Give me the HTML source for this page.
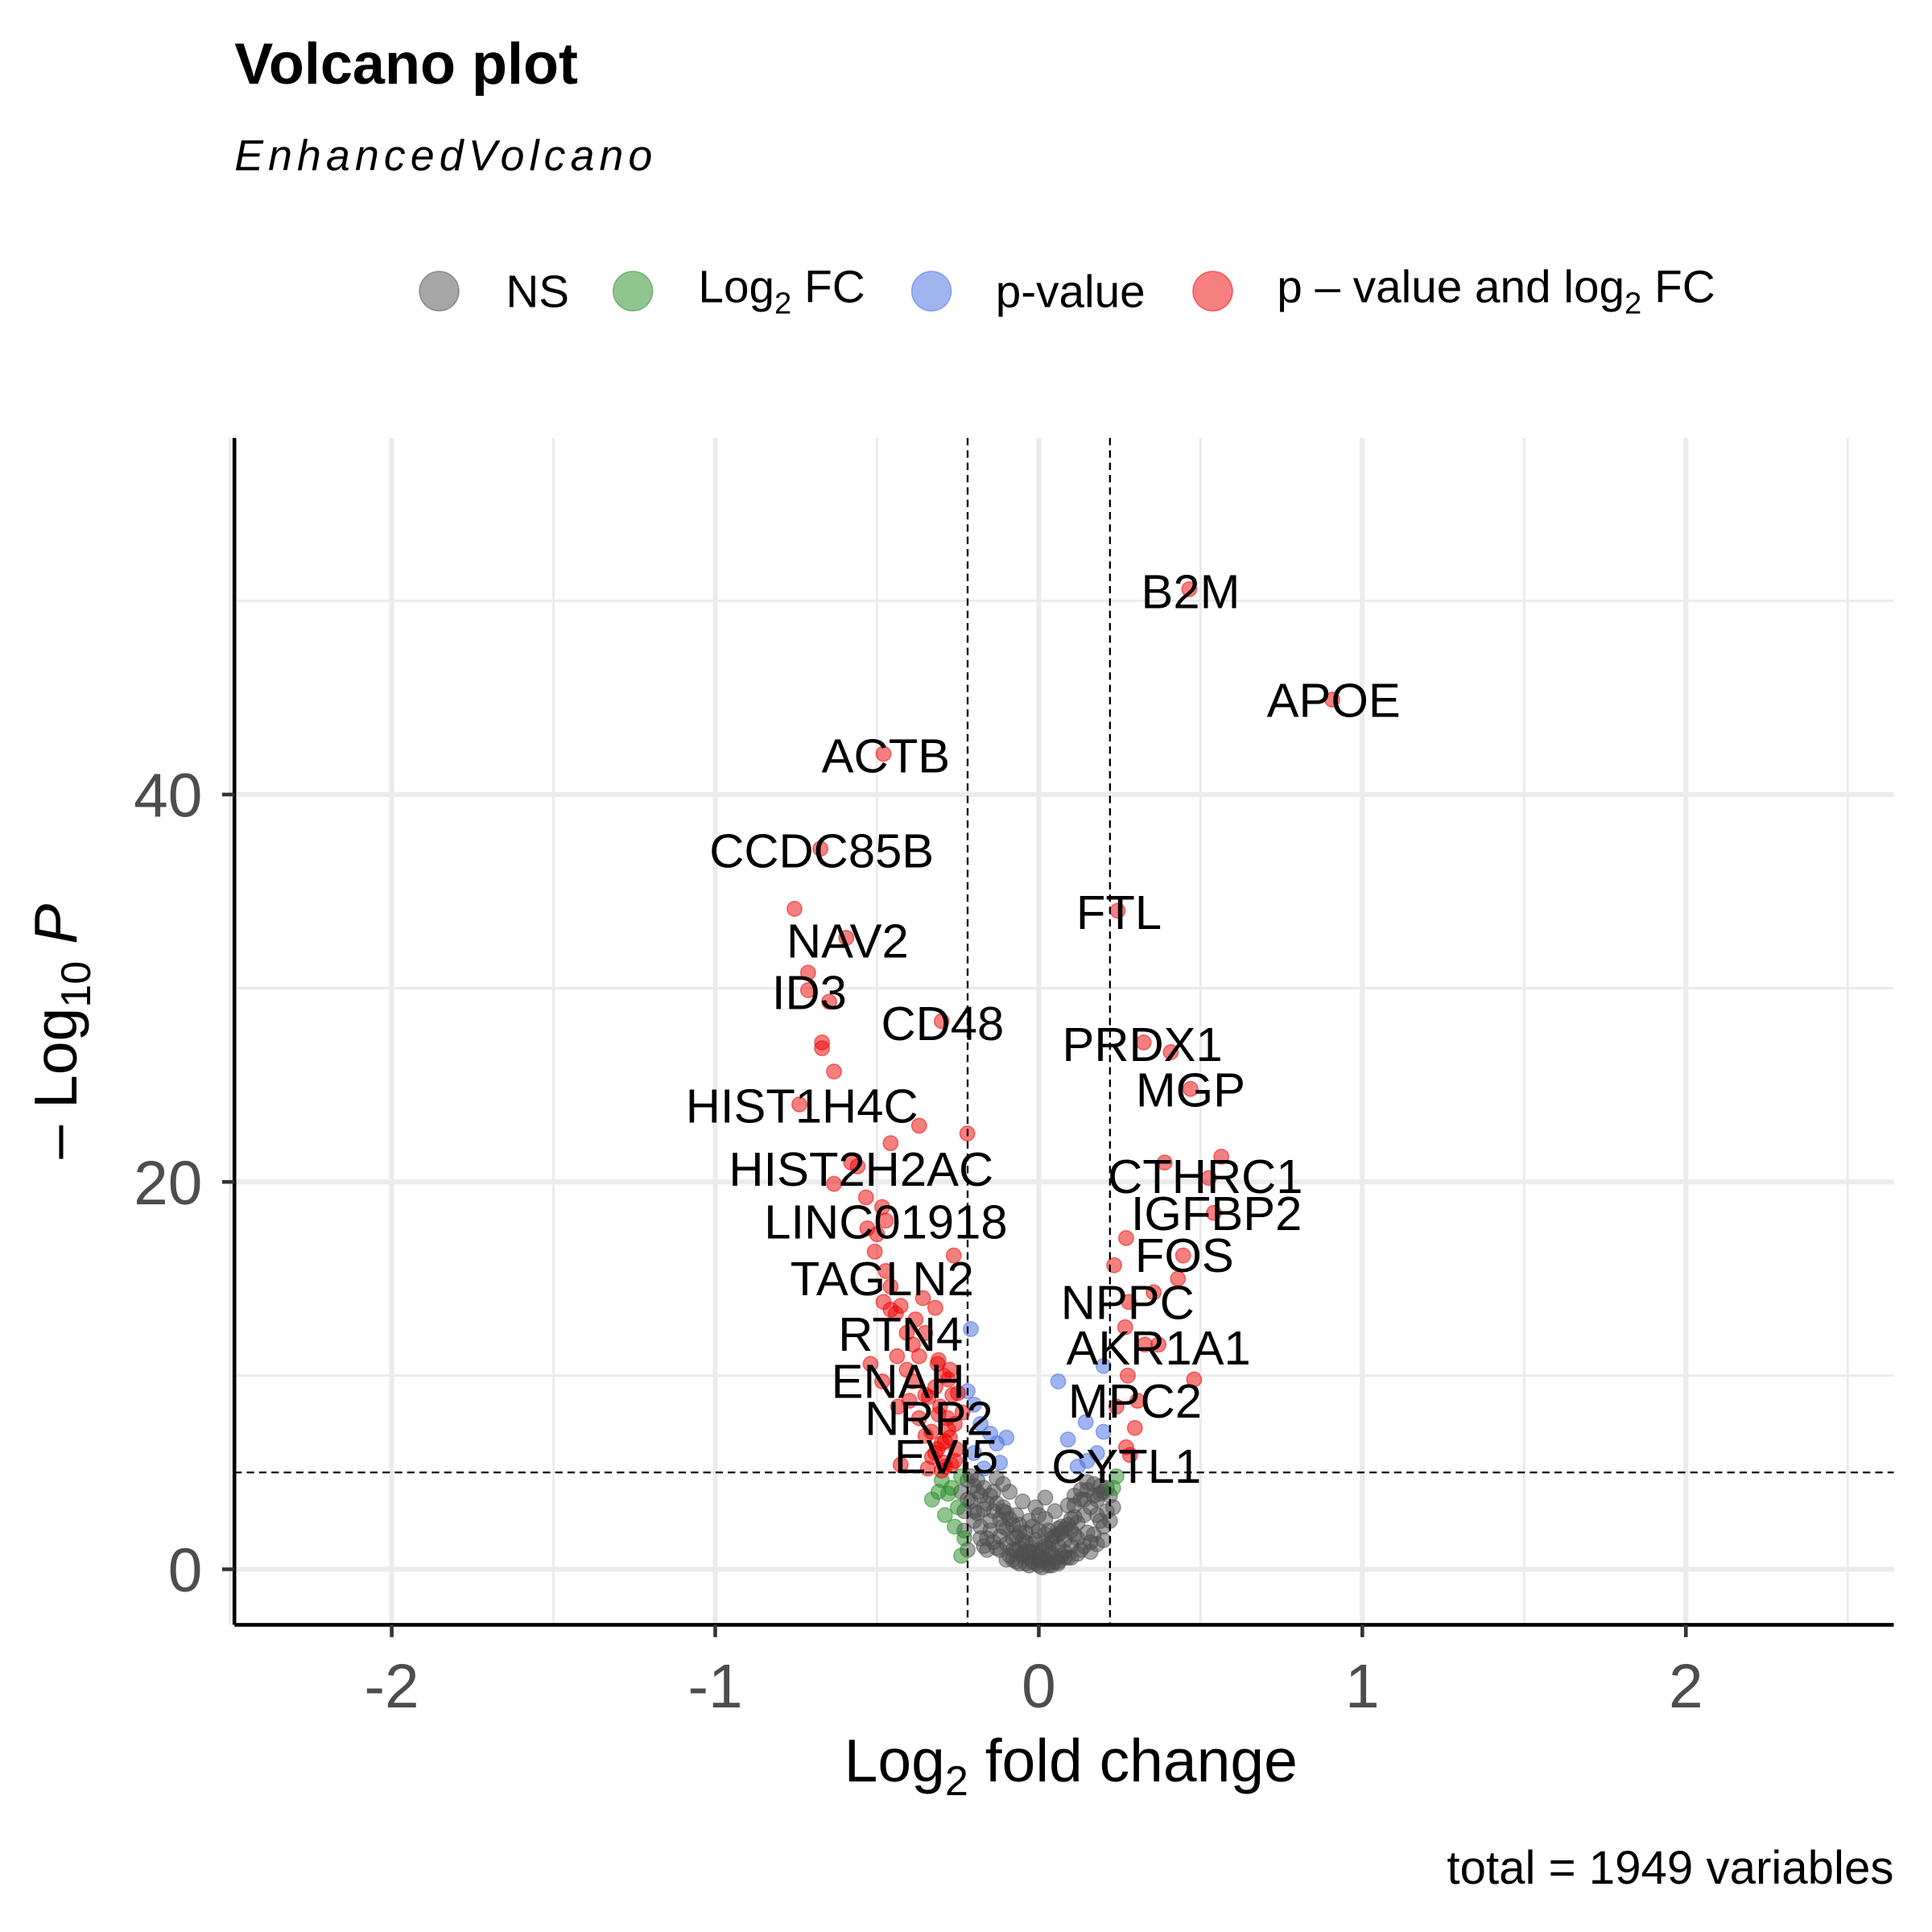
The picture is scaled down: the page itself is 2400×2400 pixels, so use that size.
<!DOCTYPE html>
<html><head><meta charset="utf-8"><style>
html,body{margin:0;padding:0;background:#fff;}
svg{display:block;font-family:"Liberation Sans",Arial,sans-serif;}
</style></head><body>
<svg id="chart" width="2400" height="2400" viewBox="0 0 1566 1566" xmlns="http://www.w3.org/2000/svg">
<text x="190" y="68" font-size="47" font-weight="bold">Volcano plot</text>
<text x="190" y="138" font-size="35" font-style="italic" letter-spacing="4">EnhancedVolcano</text>
<g font-size="37">
 <g><circle cx="356" cy="236" r="16" fill="#4d4d4d" fill-opacity="0.5" stroke="#4d4d4d" stroke-opacity="0.5"/><text x="410" y="249">NS</text></g>
 <g><circle cx="513" cy="236" r="16" fill="#228b22" fill-opacity="0.5" stroke="#228b22" stroke-opacity="0.5"/><text x="566" y="245">Log<tspan font-size="25" dy="9">2</tspan><tspan dy="-9"> FC</tspan></text></g>
 <g><circle cx="755" cy="236" r="16" fill="#4169e1" fill-opacity="0.5" stroke="#4169e1" stroke-opacity="0.5"/><text x="807" y="249">p-value</text></g>
 <g><circle cx="983" cy="236" r="16" fill="#ee0000" fill-opacity="0.5" stroke="#ee0000" stroke-opacity="0.5"/><text x="1035" y="245">p – value and log<tspan font-size="25" dy="9">2</tspan><tspan dy="-9"> FC</tspan></text></g>
</g>
<g id="grid"></g>
<g id="marks"></g>
<g id="labels" font-size="39" text-anchor="middle"></g>
<g id="axes"></g>
<text x="868" y="1444" font-size="49" text-anchor="middle">Log<tspan font-size="34" dy="11">2</tspan><tspan dy="-11"> fold change</tspan></text>
<text transform="translate(62,836) rotate(-90)" font-size="49" text-anchor="middle">– Log<tspan font-size="34" dy="11">10</tspan><tspan dy="-11" font-style="italic"> P</tspan></text>
<text x="1535" y="1527" font-size="38" text-anchor="end">total = 1949 variables</text>
</svg>
<script>
const xTicks=[-2,-1,0,1,2];
const xMinor=[-2.5,-1.5,-0.5,0.5,1.5,2.5];
const yTicks=[0,20,40];
const yMinor=[10,30,50];
const fcCut=[-0.22,0.22];
const pCut=[5];
const redX=[0.465,0.907,-0.48,-0.675,0.244,-0.755,-0.595,-0.713,-0.713,-0.648,-0.30,0.324,0.408,0.469,-0.67,-0.67,-0.633,-0.74,-0.37,-0.221,-0.458,-0.58,-0.56,0.564,0.389,0.526,-0.633,0.541,-0.534,-0.484,0.27,0.446,-0.263,0.233,0.43,0.278,0.355,-0.358,-0.32,0.267,0.328,0.37,0.48,0.275,0.305,0.24,0.297,0.282,0.27,
-0.473,-0.458,-0.48,-0.458,-0.427,-0.5,-0.507,-0.53,-0.473,-0.442,-0.408,-0.389,-0.37,-0.408,-0.313,-0.294,-0.389,-0.351,-0.305,-0.282,-0.332,-0.275,-0.313,-0.294,-0.343,-0.427,-0.255,-0.267,-0.236,-0.435,-0.37,-0.32,-0.275,-0.351,-0.381,-0.438,-0.4,-0.484,-0.52,-0.3,-0.33,-0.26,-0.28,-0.31,-0.25,-0.35,-0.29,-0.3,-0.27,-0.32,-0.29,-0.26,-0.34,-0.28,-0.31];
const redY=[50.6,44.9,42.1,37.2,34.0,34.1,32.6,30.8,29.9,29.3,28.3,27.2,26.7,24.8,27.2,26.9,25.7,24.0,22.9,22.5,22.0,21.0,20.8,21.3,21.0,20.2,19.9,18.4,19.2,18.7,17.1,16.2,16.2,15.7,15.0,13.8,14.3,14.0,13.5,12.5,11.6,11.6,9.8,10.0,8.7,8.4,7.3,5.9,6.3,
15.4,14.6,13.8,13.4,13.6,17.3,16.4,17.6,18.0,13.2,12.2,11.6,11.0,10.3,10.6,10.0,9.7,9.0,8.4,7.8,7.1,6.8,6.2,5.5,5.2,5.4,6.2,9.0,8.1,8.4,7.8,9.4,10.3,12.2,12.9,11.0,8.7,9.7,10.6,6.5,5.8,5.6,7.2,8.0,9.1,6.9,5.3,5.1,5.4,6.0,6.6,7.5,8.9,9.8,10.8];
const blueX=[-0.21,0.2,0.06,0.145,0.09,0.2,-0.2,-0.18,-0.15,-0.13,-0.2,-0.12,-0.17,-0.22,-0.1,0.15,0.12,0.18];
const blueY=[12.4,10.5,9.7,7.6,6.7,7.1,8.5,7.5,7.0,6.5,6.0,5.5,5.2,9.2,6.8,5.6,5.3,6.0];
const greenX=[-0.33,-0.24,-0.27,-0.25,-0.3,-0.26,-0.28,-0.23,-0.24,0.24,0.23,-0.29,-0.31];
const greenY=[3.6,0.7,4.2,3.2,4.6,2.2,3.9,1.6,4.8,4.8,4.2,2.8,4.0];
const grayX=[0,0.02,-0.02,0.04,-0.04,0.06,-0.06,0.08,-0.08,0.1,-0.1,0.12,-0.12,0.14,-0.14,0.16,-0.16,0.18,-0.18,0.2,-0.2,0.22,-0.22,0.01,-0.01,0.03,-0.03,0.05,-0.05,0.07,-0.07,0.09,-0.09,0.11,-0.11,0.13,-0.13,0.15,-0.15,0.17,-0.17,0.19,-0.19,0.21,-0.21,0.0,0.02,-0.02,0.05,-0.05,0.08,-0.08,0.1,-0.1,0.12,-0.12,0.15,-0.15,0.18,-0.2,-0.23,-0.22,0.2,0.0,0.03,-0.03,0.06,-0.07,0.09,-0.09,0.13,-0.13,0.16,-0.16,-0.18,0.22,-0.04,0.04,-0.11,0.11,0.06,-0.06,0.0,-0.01,0.02,-0.14,0.14,0.19,-0.19,-0.24,
0.01,-0.01,0.03,-0.03,0.05,-0.05,0.07,-0.07,0.0,0.02,-0.02,0.04,-0.04,0.06,-0.06,0.08,-0.08,0.1,-0.1,0.01,-0.03,0.03,-0.05,0.05,-0.09,0.09,-0.11,0.11,-0.13,0.13,-0.15,0.15,-0.17,0.17,-0.19,0.19,-0.21,0.21,-0.2,0.2,-0.18,0.18,-0.16,0.16,-0.14,0.14,-0.12,0.12,-0.06,0.06,-0.08,0.08,-0.02,0.02,0.0,-0.04,0.04,-0.1,0.1,-0.23,0.23,-0.22,0.17,-0.17,0.07,-0.07,0.11,-0.11];
const grayY=[0.2,0.5,0.4,0.8,0.9,1.2,1.1,1.5,1.6,2.0,2.1,2.4,2.6,2.8,3.0,3.2,3.4,3.6,3.8,4.0,4.3,3.8,4.6,1.0,1.5,2.0,2.5,3.0,3.5,2.2,2.8,3.3,4.0,3.8,4.4,4.1,4.7,4.5,2.0,1.8,1.2,2.5,2.9,3.0,3.5,1.0,1.8,0.9,0.6,0.7,0.9,1.0,1.2,1.3,1.6,1.7,1.9,2.5,2.8,3.0,2.0,1.0,1.5,0.5,0.3,0.2,0.3,0.4,0.6,0.7,1.0,1.1,1.4,1.6,2.2,2.5,1.9,1.4,3.2,2.7,2.1,2.3,2.8,3.2,3.7,4.0,3.6,4.3,4.6,4.0,
0.1,0.3,0.2,0.6,0.4,0.8,0.7,1.0,0.7,1.2,1.3,1.6,1.4,1.8,1.9,2.1,2.3,2.6,2.9,0.4,0.9,1.1,1.5,1.7,2.6,2.3,3.0,3.3,3.4,3.6,3.8,4.1,4.2,4.4,4.0,3.9,4.8,4.2,2.5,2.2,1.6,1.3,1.0,0.9,1.4,1.2,1.0,0.8,0.3,0.4,0.5,0.6,2.2,2.6,2.0,0.3,0.2,0.5,0.6,3.0,3.2,3.6,3.8,3.1,1.9,1.7,1.8,2.2];
const labelNames=["B2M","APOE","ACTB","CCDC85B","FTL","NAV2","ID3","CD48","PRDX1","MGP","HIST1H4C","HIST2H2AC","CTHRC1","IGFBP2","LINC01918","FOS","TAGLN2","NPPC","RTN4","AKR1A1","ENAH","MPC2","NRP2","EVI5","CYTL1"];
const labelX=[965,1081,718,666,907,687,656,764,926,965,650,698,977,986,718,960,715,914,730,939,728,920,753,767,913];
const labelY=[480,568,613,690,740,763,805,830,847,884,897,948,954,984,991,1018,1037,1056,1082,1093,1120,1136,1150,1181,1189];

const L=190,R=1535,T=355,B=1317;
function sx(v){return 842+v*262.25;}
function sy(v){return 1272-v*15.7;}
const NS="http://www.w3.org/2000/svg";
function mk(tag,attrs,parent){const e=document.createElementNS(NS,tag);for(const k in attrs)e.setAttribute(k,attrs[k]);parent.appendChild(e);return e;}
const grid=document.getElementById('grid'),marks=document.getElementById('marks'),labels=document.getElementById('labels'),axes=document.getElementById('axes');
xMinor.forEach(v=>{const e=mk('line',{x1:sx(v),x2:sx(v),y1:T,y2:B,stroke:'#ebebeb','stroke-width':2},grid);

});
yMinor.forEach(v=>{const e=mk('line',{x1:L,x2:R,y1:sy(v),y2:sy(v),stroke:'#ebebeb','stroke-width':2},grid);

});
xTicks.forEach(v=>{const e=mk('line',{x1:sx(v),x2:sx(v),y1:T,y2:B,stroke:'#ebebeb','stroke-width':4},grid);

});
yTicks.forEach(v=>{const e=mk('line',{x1:L,x2:R,y1:sy(v),y2:sy(v),stroke:'#ebebeb','stroke-width':4},grid);

});
function pts(xs,ys,col,name){xs.forEach((x,i)=>{const c=mk('circle',{cx:sx(x),cy:sy(ys[i]),r:6,fill:col,'fill-opacity':0.5,stroke:col,'stroke-opacity':0.5,'stroke-width':1},marks);

});}
pts(grayX,grayY,'#4d4d4d','point-ns');
pts(greenX,greenY,'#228b22','point-log2fc');
pts(blueX,blueY,'#4169e1','point-pvalue');
pts(redX,redY,'#ee0000','point-significant');
fcCut.forEach(v=>{const e=mk('line',{x1:sx(v),x2:sx(v),y1:T,y2:B,stroke:'#000','stroke-width':1.5,'stroke-dasharray':'6,4'},marks);

});
pCut.forEach(v=>{const e=mk('line',{x1:L,x2:R,y1:sy(v),y2:sy(v),stroke:'#000','stroke-width':1.5,'stroke-dasharray':'6,4'},marks);

});
labelNames.forEach((n,i)=>{const t=mk('text',{x:labelX[i],y:labelY[i]+13},labels);t.textContent=n;

});
const xa=mk('line',{x1:L,x2:R,y1:B,y2:B,stroke:'#000','stroke-width':3},axes);


const ya=mk('line',{x1:L,x2:L,y1:T,y2:B,stroke:'#000','stroke-width':3},axes);


xTicks.forEach(v=>{mk('line',{x1:sx(v),x2:sx(v),y1:B,y2:B+10,stroke:'#333','stroke-width':3},axes);
const t=mk('text',{x:sx(v),y:B+67,'font-size':50,fill:'#4d4d4d','text-anchor':'middle'},axes);t.textContent=v;

});
yTicks.forEach(v=>{mk('line',{x1:L-10,x2:L,y1:sy(v),y2:sy(v),stroke:'#333','stroke-width':3},axes);
const t=mk('text',{x:L-26,y:sy(v)+18,'font-size':50,fill:'#4d4d4d','text-anchor':'end'},axes);t.textContent=v;

});
</script>
</body></html>
